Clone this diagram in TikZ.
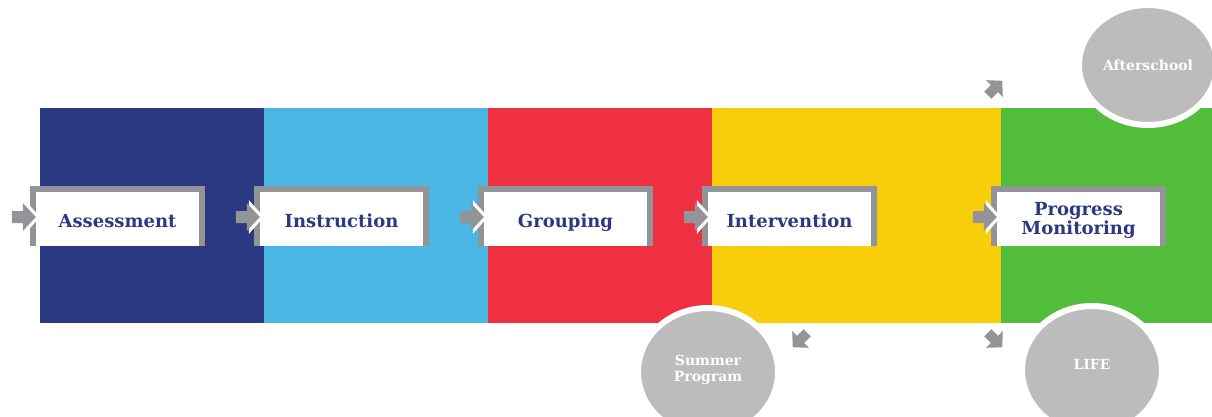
\documentclass[tikz,border=0pt]{standalone}
\usepackage{fontspec}
\setmainfont{DejaVu Serif}
\usetikzlibrary{shapes.geometric}
\usetikzlibrary{calc}

\begin{document}
\begin{tikzpicture}[x=1pt,y=-1pt,
    stepbox/.style={
      fill=white,
      inner sep=0pt,
      minimum width=175pt,
      minimum height=60pt,
      align=center,
      font=\fontsize{18}{18}\selectfont\bfseries,
      text=navy
    },
    oneline/.style={text height=24pt, text depth=2pt},
    frame/.style={draw=frgray,line width=6pt},
    extra/.style={
      ellipse,
      fill=circgray,
      draw=white,
      line width=6pt,
      inner sep=0pt,
      align=center,
      text=white,
      font=\fontsize{14}{16}\selectfont\bfseries
    },
    blockarrow/.pic={
      \fill[white] (1,-6) -- (1,-17) -- (16,0) -- (1,17) -- (1,6) -- cycle;
      \fill[frgray] (-12,-6) -- (-1,-6) -- (-1,-14) -- (12,0) -- (-1,14) -- (-1,6) -- (-12,6) -- cycle;
    },
    sidearrow/.pic={
      \fill[frgray,scale=0.85] (-12,-6) -- (-1,-6) -- (-1,-14) -- (12,0) -- (-1,14) -- (-1,6) -- (-12,6) -- cycle;
    }]

\definecolor{navy}{RGB}{43,57,130}
\definecolor{sky}{RGB}{75,183,228}
\definecolor{cred}{RGB}{239,48,64}
\definecolor{cyellow}{RGB}{248,206,11}
\definecolor{cgreen}{RGB}{82,189,58}
\definecolor{frgray}{RGB}{146,148,151}
\definecolor{circgray}{RGB}{187,188,187}

\useasboundingbox (0,0) rectangle (1212,417);

% coloured bands
\fill[navy] (40,108) rectangle (264,323);
\fill[sky] (264,108) rectangle (488,323);
\fill[cred] (488,108) rectangle (712,323);
\fill[cyellow] (712,108) rectangle (1001,323);
\fill[cgreen] (1001,108) rectangle (1212,323);

% side programmes
\node[extra, minimum width=138pt, minimum height=120pt] (as) at (1148,65) {Afterschool};
\node[extra, minimum width=140pt, minimum height=128pt] (sp) at (708,372) {\rule{0pt}{8pt}Summer\\Program\rule[-8pt]{0pt}{8pt}};
\node[extra, minimum width=140pt, minimum height=128pt, text height=10pt, text depth=12pt] (lf) at (1092,370) {LIFE};

% steps
\node[stepbox, oneline] (ass) at (117.5,216) {Assessment};
\node[stepbox, oneline] (ins) at (341.5,216) {Instruction};
\node[stepbox, oneline] (grp) at (565.5,216) {Grouping};
\node[stepbox, oneline] (itv) at (789.5,216) {Intervention};
\node[stepbox, font=\fontsize{18}{17}\selectfont\bfseries] (pm) at (1078.5,216) {\rule{0pt}{22pt}Progress\\Monitoring};

\draw[frame] ([xshift=3pt]ass.south west) -- ([xshift=3pt,yshift=-3pt]ass.north west) -- ([xshift=-3pt,yshift=-3pt]ass.north east) -- ([xshift=-3pt]ass.south east);
\draw[frame] ([xshift=3pt]ins.south west) -- ([xshift=3pt,yshift=-3pt]ins.north west) -- ([xshift=-3pt,yshift=-3pt]ins.north east) -- ([xshift=-3pt]ins.south east);
\draw[frame] ([xshift=3pt]grp.south west) -- ([xshift=3pt,yshift=-3pt]grp.north west) -- ([xshift=-3pt,yshift=-3pt]grp.north east) -- ([xshift=-3pt]grp.south east);
\draw[frame] ([xshift=3pt]itv.south west) -- ([xshift=3pt,yshift=-3pt]itv.north west) -- ([xshift=-3pt,yshift=-3pt]itv.north east) -- ([xshift=-3pt]itv.south east);
\draw[frame] ([xshift=3pt]pm.south west) -- ([xshift=3pt,yshift=-3pt]pm.north west) -- ([xshift=-3pt,yshift=-3pt]pm.north east) -- ([xshift=-3pt]pm.south east);

% arrows into the steps
\pic at ([xshift=-6pt,yshift=-1pt]ass.west) {blockarrow};
\pic at ([xshift=-6pt,yshift=-1pt]ins.west) {blockarrow};
\pic at ([xshift=-6pt,yshift=-1pt]grp.west) {blockarrow};
\pic at ([xshift=-6pt,yshift=-1pt]itv.west) {blockarrow};
\pic at ([xshift=-6pt,yshift=-1pt]pm.west) {blockarrow};

% arrows out to the programmes
\pic[rotate=45] at (995,88) {sidearrow};
\pic[rotate=225] at (800,340) {sidearrow};
\pic[rotate=-45] at (995,340) {sidearrow};

\end{tikzpicture}
\end{document}
